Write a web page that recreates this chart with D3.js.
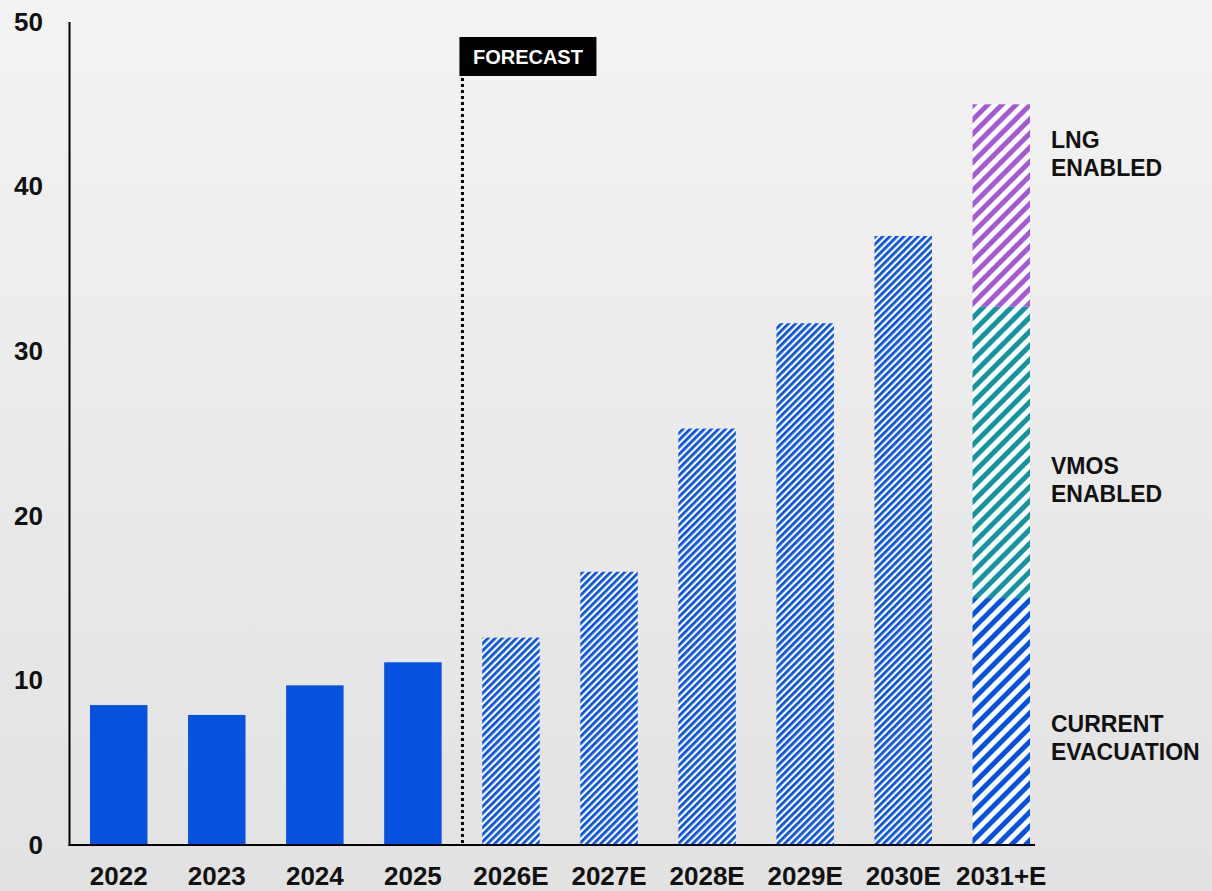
<!DOCTYPE html>
<html>
<head>
<meta charset="utf-8">
<script src="https://cdn.jsdelivr.net/npm/d3@7"></script>
<style>
  html, body { margin: 0; padding: 0; }
  body { width: 1212px; height: 891px; overflow: hidden; }
  svg { display: block; font-family: "Liberation Sans", Arial, sans-serif; }
</style>
</head>
<body>
<svg id="chart" width="1212" height="891"></svg>
<script>
// Yearly values; the last year is split into three stacked components
const years = ["2022", "2023", "2024", "2025", "2026E", "2027E", "2028E", "2029E", "2030E", "2031+E"];
const actualValues = [8.5, 7.9, 9.7, 11.1];            // 2022–2025
const forecastValues = [12.6, 16.6, 25.3, 31.7, 37.0];  // 2026E–2030E
const finalYear = "2031+E";
const finalSegments = ["CURRENT EVACUATION", "VMOS ENABLED", "LNG ENABLED"];
const finalValues = [15.0, 17.7, 12.3];
const yTicks = [0, 10, 20, 30, 40, 50];
const forecastLabel = "FORECAST";

const svg = d3.select("#chart");
const W = 1212, H = 891;

// Soft vertical background gradient
const defs = svg.append("defs");
const bg = defs.append("linearGradient").attr("id", "bg").attr("x1", 0).attr("y1", 0).attr("x2", 0).attr("y2", 1);
bg.append("stop").attr("offset", "0%").attr("stop-color", "#f3f3f3");
bg.append("stop").attr("offset", "100%").attr("stop-color", "#e2e2e2");
svg.append("rect").attr("width", W).attr("height", H).attr("fill", "url(#bg)");

const BLUE = "#0551e0", TEAL = "#13959f", PURPLE = "#a35ad4";

// Diagonal hatch patterns
function hatch(id, color, size, frac) {
  const p = defs.append("pattern")
    .attr("id", id)
    .attr("patternUnits", "userSpaceOnUse")
    .attr("width", size).attr("height", size)
    .attr("patternTransform", "rotate(45)");
  p.append("rect").attr("width", size).attr("height", size).attr("fill", "#ffffff");
  p.append("rect").attr("x", 0).attr("y", 0).attr("width", size * frac).attr("height", size).attr("fill", color);
}
hatch("hatchBlue", BLUE, 5, 0.55);
hatch("hatchBlueWide", BLUE, 10, 0.5);
hatch("hatchTeal", TEAL, 10, 0.5);
hatch("hatchPurple", PURPLE, 10, 0.5);
const segFills = ["url(#hatchBlueWide)", "url(#hatchTeal)", "url(#hatchPurple)"];

const x = d3.scaleBand().domain(years).range([69, 1051]).paddingInner(0.414).paddingOuter(0.214);
const y = d3.scaleLinear().domain([0, 50]).range([845, 22]);
const bw = x.bandwidth();

// Actual bars (solid)
const actual = years.slice(0, 4).map((yr, i) => ({ yr, v: actualValues[i] }));
svg.append("g").selectAll("rect").data(actual).join("rect")
  .attr("x", d => x(d.yr)).attr("width", bw)
  .attr("y", d => y(d.v)).attr("height", d => y(0) - y(d.v))
  .attr("fill", BLUE);

// Forecast bars (hatched)
const forecast = years.slice(4, 9).map((yr, i) => ({ yr, v: forecastValues[i] }));
svg.append("g").selectAll("rect").data(forecast).join("rect")
  .attr("x", d => x(d.yr)).attr("width", bw)
  .attr("y", d => y(d.v)).attr("height", d => y(0) - y(d.v))
  .attr("fill", "url(#hatchBlue)");

// Final stacked bar
let acc = 0;
const stack = finalValues.map((v, i) => { const s = { i, y0: acc, y1: acc + v }; acc += v; return s; });
svg.append("g").selectAll("rect").data(stack).join("rect")
  .attr("x", x(finalYear)).attr("width", bw)
  .attr("y", d => y(d.y1)).attr("height", d => y(d.y0) - y(d.y1))
  .attr("fill", d => segFills[d.i]);

// Segment labels to the right of the final bar
const labelX = x(finalYear) + bw + 21;
const labelCenters = [738, 480, 154];
finalSegments.forEach((name, i) => {
  const words = name.split(" ");
  const t = svg.append("text")
    .attr("x", labelX)
    .attr("font-size", 23).attr("font-weight", "bold").attr("fill", "#111");
  words.forEach((w, k) => {
    t.append("tspan").attr("x", labelX)
      .attr("y", labelCenters[i] + (k - (words.length - 1) / 2) * 28 + 8)
      .text(w);
  });
});

// Axes
svg.append("line").attr("x1", 69.5).attr("x2", 69.5).attr("y1", y(50)).attr("y2", y(0) + 1)
  .attr("stroke", "#000").attr("stroke-width", 2);
svg.append("line").attr("x1", 68.5).attr("x2", x(finalYear) + bw + 5).attr("y1", y(0)).attr("y2", y(0))
  .attr("stroke", "#000").attr("stroke-width", 2);

const yAxis = d3.axisLeft(y).tickValues(yTicks).tickSize(0).tickPadding(0).tickFormat(d3.format("d"));
const gy = svg.append("g").attr("transform", "translate(43,0)").call(yAxis);
gy.select(".domain").remove();
gy.selectAll("text").attr("font-size", 26).attr("font-weight", "bold").attr("fill", "#111")
  .attr("font-family", "Liberation Sans, Arial, sans-serif");

const xAxis = d3.axisBottom(x).tickSize(0).tickPadding(0);
const gx = svg.append("g").attr("transform", `translate(0,${y(0)})`).call(xAxis);
gx.select(".domain").remove();
gx.selectAll("text").attr("font-size", 26).attr("font-weight", "bold").attr("fill", "#111")
  .attr("font-family", "Liberation Sans, Arial, sans-serif")
  .attr("dy", null).attr("y", 40);

// Forecast divider and tag
const divX = (x("2025") + bw + x("2026E")) / 2 + 0.5;
svg.append("line").attr("x1", divX).attr("x2", divX).attr("y1", 78).attr("y2", y(0))
  .attr("stroke", "#000").attr("stroke-width", 3).attr("stroke-dasharray", "3 3");
svg.append("rect").attr("x", divX - 3).attr("y", 37).attr("width", 137).attr("height", 39).attr("fill", "#000");
svg.append("text").attr("x", divX - 3 + 68.5).attr("y", 63.5).attr("text-anchor", "middle")
  .attr("font-size", 20).attr("font-weight", "bold").attr("fill", "#fff").text(forecastLabel);
</script>
</body>
</html>
